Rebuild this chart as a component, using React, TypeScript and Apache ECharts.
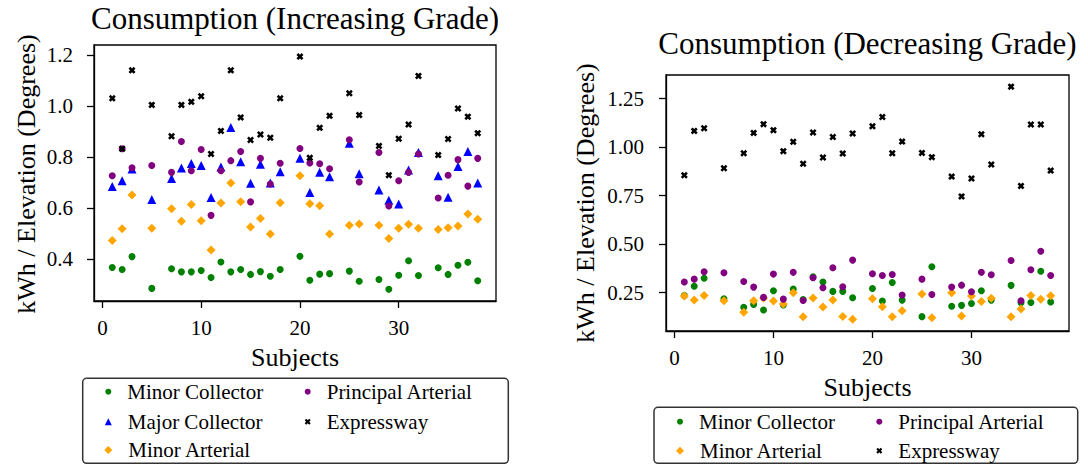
import React, { useEffect, useRef } from 'react';
import * as echarts from 'echarts';

const subjects = [1, 2, 3, 5, 7, 8, 9, 10, 11, 12, 13, 14, 15, 16, 17, 18, 20, 21, 22, 23, 25, 26, 28, 29, 30, 31, 32, 34, 35, 36, 37, 38];

// Increasing grade
const incMinorCollector = [0.366, 0.358, 0.409, 0.284, 0.361, 0.349, 0.349, 0.354, 0.327, 0.388, 0.349, 0.358, 0.339, 0.350, 0.332, 0.358, 0.410, 0.316, 0.340, 0.342, 0.352, 0.312, 0.319, 0.281, 0.336, 0.393, 0.335, 0.365, 0.339, 0.375, 0.387, 0.314];
const incMajorCollector = [0.684, 0.707, 0.753, 0.633, 0.716, 0.757, 0.775, 0.767, 0.641, 0.761, 0.916, 0.782, 0.697, 0.772, 0.698, 0.742, 0.795, 0.661, 0.740, 0.723, 0.854, 0.735, 0.671, 0.630, 0.616, 0.749, 0.818, 0.727, 0.642, 0.763, 0.822, 0.698];
const incMinorArterial = [0.472, 0.518, 0.651, 0.520, 0.597, 0.548, 0.614, 0.550, 0.435, 0.620, 0.698, 0.625, 0.525, 0.559, 0.498, 0.621, 0.727, 0.617, 0.609, 0.498, 0.532, 0.537, 0.532, 0.480, 0.520, 0.536, 0.520, 0.515, 0.522, 0.529, 0.576, 0.556];
const incPrincipalArterial = [0.727, 0.833, 0.758, 0.767, 0.740, 0.861, 0.746, 0.830, 0.571, 0.746, 0.786, 0.822, 0.624, 0.795, 0.694, 0.776, 0.834, 0.777, 0.774, 0.754, 0.868, 0.702, 0.818, 0.608, 0.707, 0.740, 0.812, 0.639, 0.729, 0.790, 0.686, 0.795];
const incExpressway = [1.031, 0.833, 1.141, 1.005, 0.882, 1.005, 1.017, 1.039, 0.812, 0.903, 1.141, 0.956, 0.867, 0.889, 0.876, 1.031, 1.195, 0.797, 0.915, 0.962, 1.051, 0.965, 0.844, 0.729, 0.872, 0.928, 1.119, 0.808, 0.871, 0.991, 0.959, 0.894];

// Decreasing grade
const decMinorCollector = [0.235, 0.283, 0.325, 0.219, 0.175, 0.190, 0.161, 0.260, 0.187, 0.269, 0.215, 0.332, 0.305, 0.257, 0.257, 0.224, 0.272, 0.207, 0.303, 0.212, 0.127, 0.384, 0.180, 0.185, 0.195, 0.260, 0.212, 0.288, 0.199, 0.200, 0.361, 0.202];
const decMinorArterial = [0.233, 0.212, 0.236, 0.209, 0.149, 0.209, 0.223, 0.207, 0.192, 0.250, 0.127, 0.223, 0.176, 0.212, 0.128, 0.113, 0.219, 0.178, 0.127, 0.157, 0.243, 0.121, 0.250, 0.130, 0.233, 0.205, 0.221, 0.127, 0.166, 0.236, 0.216, 0.235];
const decPrincipalArterial = [0.305, 0.320, 0.358, 0.353, 0.308, 0.279, 0.226, 0.346, 0.217, 0.355, 0.210, 0.327, 0.276, 0.379, 0.281, 0.418, 0.348, 0.339, 0.344, 0.238, 0.320, 0.241, 0.279, 0.289, 0.255, 0.355, 0.343, 0.416, 0.209, 0.368, 0.464, 0.339];
const decExpressway = [0.855, 1.083, 1.097, 0.891, 0.968, 1.073, 1.118, 1.087, 0.979, 1.027, 0.914, 1.075, 0.946, 1.052, 0.967, 1.070, 1.107, 1.155, 0.968, 1.028, 0.970, 0.948, 0.848, 0.746, 0.838, 1.066, 0.910, 1.311, 0.800, 1.116, 1.116, 0.879];

const xTicks = [0, 10, 20, 30];
const incYTicks = [0.4, 0.6, 0.8, 1.0, 1.2];
const decYTicks = [0.25, 0.5, 0.75, 1.0, 1.25];

const FONT = 'Liberation Serif, Times New Roman, serif';
const X_PATH = 'path://M0,2.6 L2.6,0 L5,2.4 L7.4,0 L10,2.6 L7.6,5 L10,7.4 L7.4,10 L5,7.6 L2.6,10 L0,7.4 L2.4,5 Z';

const COLORS = {
  minorCollector: '#008000',
  majorCollector: '#0000ff',
  minorArterial: '#ffa500',
  principalArterial: '#800080',
  expressway: '#000000',
};

const pair = (vals: number[]) => subjects.map((s, i) => [s, vals[i]]);

function scatter(name: string, vals: number[], idx: number, symbol: string, size: number, color: string) {
  return {
    type: 'scatter',
    name,
    xAxisIndex: idx,
    yAxisIndex: idx,
    data: pair(vals),
    symbol,
    symbolSize: size,
    itemStyle: { color, opacity: 1 },
    emphasis: { disabled: true },
  };
}

function legendItem(name: string, icon: string, size: number, cx: number, cy: number) {
  return {
    data: [{ name, icon }],
    left: cx - size / 2,
    top: cy - 10.5,
    padding: 0,
    itemWidth: size,
    itemHeight: size,
    selectedMode: false,
    textStyle: { fontFamily: FONT, fontSize: 21, color: '#000', padding: [0, 0, 0, 11] },
  };
}

function xAxis(idx: number) {
  return {
    type: 'value',
    gridIndex: idx,
    min: -0.85,
    max: 39.85,
    axisLine: { show: true, onZero: false, lineStyle: { color: '#000', width: 1.3 } },
    axisTick: { show: true, length: 7, customValues: xTicks, lineStyle: { color: '#000', width: 1.3 } },
    axisLabel: { customValues: xTicks, margin: 16, fontFamily: FONT, fontSize: 21, color: '#000' },
    splitLine: { show: false },
  };
}

function yAxis(idx: number, min: number, max: number, ticks: number[], digits: number, margin: number) {
  return {
    type: 'value',
    gridIndex: idx,
    min,
    max,
    axisLine: { show: true, onZero: false, lineStyle: { color: '#000', width: 1.3 } },
    axisTick: { show: true, length: 7, customValues: ticks, lineStyle: { color: '#000', width: 1.3 } },
    axisLabel: {
      customValues: ticks,
      margin,
      fontFamily: FONT,
      fontSize: 21,
      color: '#000',
      formatter: (v: number) => v.toFixed(digits),
    },
    splitLine: { show: false },
  };
}

function label(text: string, x: number, y: number, size: number, rotate = false) {
  return {
    type: 'text',
    x,
    y,
    rotation: rotate ? Math.PI / 2 : 0,
    z: 10,
    style: { text, fontFamily: FONT, fontSize: size, fill: '#000', align: 'center', verticalAlign: 'middle' },
  };
}

export default function App() {
  const ref = useRef<HTMLDivElement>(null);

  useEffect(() => {
    if (!ref.current) return;
    const chart = echarts.init(ref.current, null, { renderer: 'svg' });
    const option: any = {
      animation: false,
      backgroundColor: '#fff',
      textStyle: { fontFamily: FONT, color: '#000' },
      grid: [
        { left: 94, top: 45, width: 402, height: 256, show: true, borderColor: '#000', borderWidth: 1.3, backgroundColor: 'transparent' },
        { left: 666, top: 75, width: 403, height: 256, show: true, borderColor: '#000', borderWidth: 1.3, backgroundColor: 'transparent' },
      ],
      xAxis: [xAxis(0), xAxis(1)],
      yAxis: [
        yAxis(0, 0.2345, 1.2405, incYTicks, 1, 21),
        yAxis(1, 0.053, 1.371, decYTicks, 2, 22),
      ],
      legend: [
        legendItem('Minor Collector', 'circle', 6, 108.3, 391.7),
        legendItem('Major Collector', 'triangle', 7, 108.3, 421.7),
        legendItem('Minor Arterial', 'diamond', 8, 108.3, 450),
        legendItem('Principal Arterial', 'circle', 6, 307.7, 391.7),
        legendItem('Expressway', X_PATH, 6, 307.7, 421.7),
        legendItem('Minor Collector', 'circle', 6, 680, 421.7),
        legendItem('Minor Arterial', 'diamond', 8, 680, 450.7),
        legendItem('Principal Arterial', 'circle', 6, 879.3, 421.7),
        legendItem('Expressway', X_PATH, 6, 879.3, 450.7),
      ],
      graphic: [
        label('Consumption (Increasing Grade)', 295, 18.5, 31),
        label('Consumption (Decreasing Grade)', 867.5, 43.5, 31),
        label('kWh / Elevation (Degrees)', 26, 174, 26, true),
        label('kWh / Elevation (Degrees)', 585, 203, 26, true),
        label('Subjects', 295, 357, 26),
        label('Subjects', 867.5, 387, 26),
        {
          type: 'rect', z: -1,
          shape: { x: 82.7, y: 378.3, width: 425.6, height: 85, r: 4 },
          style: { fill: 'none', stroke: '#333', lineWidth: 1.5 },
        },
        {
          type: 'rect', z: -1,
          shape: { x: 654, y: 407.3, width: 423.7, height: 56, r: 4 },
          style: { fill: 'none', stroke: '#333', lineWidth: 1.5 },
        },
      ],
      series: [
        scatter('Minor Collector', incMinorCollector, 0, 'circle', 7, COLORS.minorCollector),
        scatter('Major Collector', incMajorCollector, 0, 'triangle', 9, COLORS.majorCollector),
        scatter('Minor Arterial', incMinorArterial, 0, 'diamond', 9, COLORS.minorArterial),
        scatter('Principal Arterial', incPrincipalArterial, 0, 'circle', 7, COLORS.principalArterial),
        scatter('Expressway', incExpressway, 0, X_PATH, 7, COLORS.expressway),
        scatter('Minor Collector', decMinorCollector, 1, 'circle', 7, COLORS.minorCollector),
        scatter('Minor Arterial', decMinorArterial, 1, 'diamond', 9, COLORS.minorArterial),
        scatter('Principal Arterial', decPrincipalArterial, 1, 'circle', 7, COLORS.principalArterial),
        scatter('Expressway', decExpressway, 1, X_PATH, 7, COLORS.expressway),
      ],
    };
    chart.setOption(option);
    return () => chart.dispose();
  }, []);

  return (
    <div
      ref={ref}
      style={{ position: 'fixed', left: 0, top: 0, width: 1088, height: 465, background: '#fff' }}
    />
  );
}
